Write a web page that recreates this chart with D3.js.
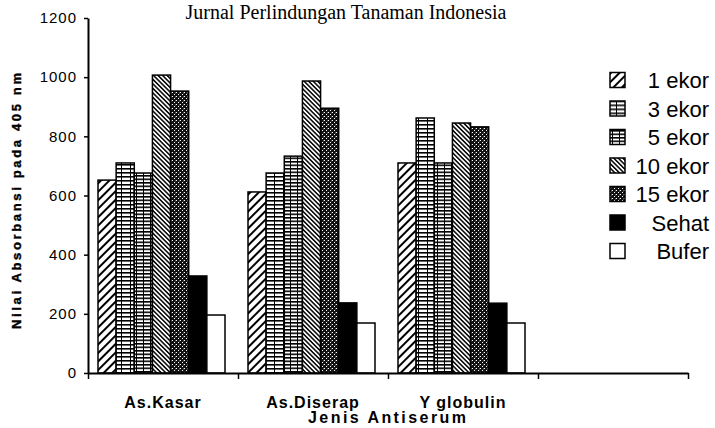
<!DOCTYPE html>
<html>
<head>
<meta charset="utf-8">
<script src="https://cdn.jsdelivr.net/npm/d3@7"></script>
<style>
  html, body { margin: 0; padding: 0; background: #fff; }
  svg { display: block; }
</style>
</head>
<body>
<svg id="chart" width="715" height="428"></svg>
<script>
// ---- data ----
const categories = ["As.Kasar", "As.Diserap", "Y globulin", ""];
const seriesNames = ["1 ekor", "3 ekor", "5 ekor", "10 ekor", "15 ekor", "Sehat", "Bufer"];
const ekor1  = [652, 612, 710];
const ekor3  = [710, 676, 862];
const ekor5  = [676, 733, 710];
const ekor10 = [1007, 987, 845];
const ekor15 = [953, 895, 832];
const sehat  = [328, 237, 236];
const bufer  = [196, 169, 169];
const yTicks = [0, 200, 400, 600, 800, 1000, 1200];
const titleText = "Jurnal Perlindungan Tanaman Indonesia";
const yTitle = "Nilai Absorbansi pada 405 nm";
const xTitle = "Jenis Antiserum";

const seriesValues = [ekor1, ekor3, ekor5, ekor10, ekor15, sehat, bufer];
const patternIds = ["p1", "p3", "p5", "p10", "p15", "psehat", "pbufer"];

const svg = d3.select("#chart");
const sansFont = "'Liberation Sans', Arial, sans-serif";

// ---- patterns ----
const defs = svg.append("defs");
// 1 ekor: forward diagonal
let p = defs.append("pattern").attr("id", "p1").attr("patternUnits", "userSpaceOnUse")
  .attr("width", 6).attr("height", 6).attr("patternTransform", "rotate(45)");
p.append("rect").attr("width", 6).attr("height", 6).attr("fill", "#fff");
p.append("line").attr("x1", 1).attr("y1", 0).attr("x2", 1).attr("y2", 6).attr("stroke", "#000").attr("stroke-width", 2);
// 3 ekor: horizontal bricks
p = defs.append("pattern").attr("id", "p3").attr("patternUnits", "userSpaceOnUse")
  .attr("width", 9).attr("height", 4);
p.append("rect").attr("width", 9).attr("height", 4).attr("fill", "#fff");
p.append("rect").attr("x", 0).attr("y", 0).attr("width", 9).attr("height", 1.6).attr("fill", "#000");
p.append("rect").attr("x", 4).attr("y", 0).attr("width", 1).attr("height", 4).attr("fill", "#000");
// 5 ekor: denser horizontal bricks
p = defs.append("pattern").attr("id", "p5").attr("patternUnits", "userSpaceOnUse")
  .attr("width", 7).attr("height", 3.5);
p.append("rect").attr("width", 7).attr("height", 3.5).attr("fill", "#fff");
p.append("rect").attr("x", 0).attr("y", 0).attr("width", 7).attr("height", 1.6).attr("fill", "#000");
p.append("rect").attr("x", 3).attr("y", 0).attr("width", 1).attr("height", 3.5).attr("fill", "#000");
// 10 ekor: dense back diagonal
p = defs.append("pattern").attr("id", "p10").attr("patternUnits", "userSpaceOnUse")
  .attr("width", 3.2).attr("height", 3.2).attr("patternTransform", "rotate(-45)");
p.append("rect").attr("width", 3.2).attr("height", 3.2).attr("fill", "#fff");
p.append("line").attr("x1", 0.8).attr("y1", 0).attr("x2", 0.8).attr("y2", 3.2).attr("stroke", "#000").attr("stroke-width", 1.5);
// 15 ekor: dark stipple
p = defs.append("pattern").attr("id", "p15").attr("patternUnits", "userSpaceOnUse")
  .attr("width", 4).attr("height", 4);
p.append("rect").attr("width", 4).attr("height", 4).attr("fill", "#111");
p.append("rect").attr("x", 0).attr("y", 0).attr("width", 1).attr("height", 1).attr("fill", "#fff");
p.append("rect").attr("x", 2).attr("y", 2).attr("width", 1).attr("height", 1).attr("fill", "#fff");
p.append("rect").attr("x", 3).attr("y", 0.5).attr("width", 0.8).attr("height", 0.8).attr("fill", "#bbb");
// Sehat: solid black
p = defs.append("pattern").attr("id", "psehat").attr("patternUnits", "userSpaceOnUse")
  .attr("width", 4).attr("height", 4);
p.append("rect").attr("width", 4).attr("height", 4).attr("fill", "#000");
// Bufer: white
p = defs.append("pattern").attr("id", "pbufer").attr("patternUnits", "userSpaceOnUse")
  .attr("width", 4).attr("height", 4);
p.append("rect").attr("width", 4).attr("height", 4).attr("fill", "#fff");

// ---- scales ----
const x = d3.scaleBand().domain(categories).range([88, 688]).paddingInner(0).paddingOuter(0);
const xs = d3.scaleBand().domain(seriesNames).range([10, 137]);
const y = d3.scaleLinear().domain([0, 1200]).range([373, 18]);
const xb = d3.scaleLinear().domain([0, categories.length]).range([88, 688]);

// ---- bars ----
const barData = [];
seriesNames.forEach((s, si) => {
  seriesValues[si].forEach((v, ci) => {
    barData.push({ cat: categories[ci], series: s, value: v, pid: patternIds[si] });
  });
});
svg.append("g").selectAll("rect").data(barData).join("rect")
  .attr("x", d => x(d.cat) + xs(d.series))
  .attr("y", d => y(d.value))
  .attr("width", xs.bandwidth())
  .attr("height", d => y(0) - y(d.value))
  .attr("fill", d => `url(#${d.pid})`)
  .attr("stroke", "#000").attr("stroke-width", 1.5);

// ---- y axis ----
const yAxis = svg.append("g").attr("transform", "translate(88,0)")
  .call(d3.axisLeft(y).tickValues(yTicks).tickSize(4).tickSizeOuter(0).tickPadding(7).tickFormat(d3.format("d")));
yAxis.select(".domain").attr("stroke-width", 2);
yAxis.selectAll(".tick line").attr("stroke-width", 1.5);
yAxis.selectAll("text").attr("font-family", sansFont).attr("font-size", 15)
  .attr("letter-spacing", 1).attr("fill", "#000");

// ---- x axis: boundary ticks ----
const xTickAxis = svg.append("g").attr("transform", "translate(0,373)")
  .call(d3.axisBottom(xb).tickValues(d3.range(categories.length + 1)).tickSize(6).tickSizeOuter(0).tickFormat(""));
xTickAxis.select(".domain").attr("stroke-width", 2);
xTickAxis.selectAll(".tick line").attr("stroke-width", 1.5);

// ---- x axis: category labels ----
const xLab = svg.append("g").attr("transform", "translate(0,373)")
  .call(d3.axisBottom(x).tickSize(0).tickPadding(24));
xLab.select(".domain").remove();
xLab.selectAll("text").attr("font-family", sansFont).attr("font-size", 16)
  .attr("font-weight", "bold").attr("letter-spacing", 1).attr("fill", "#000");

// ---- axis titles ----
svg.append("text").attr("x", 387).attr("y", 423).attr("text-anchor", "middle")
  .attr("font-family", sansFont).attr("font-size", 16).attr("font-weight", "bold")
  .attr("textLength", 158).attr("lengthAdjust", "spacing").text(xTitle);

svg.append("text").attr("transform", "translate(21,201) rotate(-90)").attr("text-anchor", "middle")
  .attr("font-family", sansFont).attr("font-size", 13).attr("font-weight", 900)
  .attr("stroke", "#000").attr("stroke-width", 0.4)
  .attr("textLength", 256).attr("lengthAdjust", "spacing").text(yTitle);

// ---- title ----
svg.append("text").attr("x", 346).attr("y", 19).attr("text-anchor", "middle")
  .attr("font-family", "'Liberation Serif', 'Times New Roman', serif").attr("font-size", 20)
  .attr("fill", "#000").text(titleText);

// ---- legend ----
const legY = d3.scalePoint().domain(seriesNames).range([80, 251]);
const leg = svg.append("g").selectAll("g").data(seriesNames).join("g")
  .attr("transform", d => `translate(0,${legY(d)})`);
leg.append("rect").attr("x", 610).attr("y", -7.5).attr("width", 15).attr("height", 15)
  .attr("fill", (d, i) => `url(#${patternIds[i]})`).attr("stroke", "#000").attr("stroke-width", 1.5);
leg.append("text").attr("x", 709).attr("y", 8).attr("text-anchor", "end")
  .attr("font-family", sansFont).attr("font-size", 22).attr("fill", "#000").text(d => d);
</script>
</body>
</html>
